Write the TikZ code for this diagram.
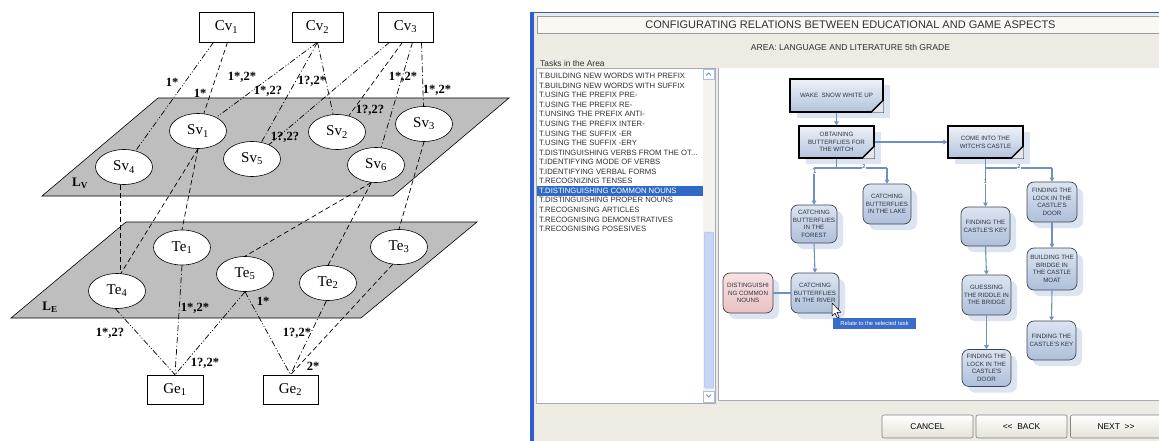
\documentclass[tikz,border=0pt]{standalone}
\usepackage{fontspec}
\setmainfont{Liberation Serif}
\newfontfamily\uisans{Liberation Sans}
\usetikzlibrary{shapes.geometric,arrows.meta,shadows,calc}
\definecolor{planegray}{HTML}{BEBEBE}
\definecolor{winbg}{HTML}{EEEBE3}
\definecolor{xpblue}{HTML}{2E5FD0}
\definecolor{titlebg}{HTML}{F9F8F5}
\definecolor{frameline}{HTML}{9A9A9A}
\definecolor{listborder}{HTML}{A5ACB5}
\definecolor{scrolltrack}{HTML}{F4F3EF}
\definecolor{thumbblue}{HTML}{C6D6F7}
\definecolor{thumbborder}{HTML}{A9BEEA}
\definecolor{selblue}{HTML}{316AC5}
\definecolor{listtext}{HTML}{303030}
\definecolor{flowblue}{HTML}{6F90C4}
\definecolor{tbtop}{HTML}{EEF2F8}
\definecolor{tbbot}{HTML}{B3C3DD}
\definecolor{rbtop}{HTML}{DCE4F1}
\definecolor{rbbot}{HTML}{AEBFDA}
\definecolor{rbborder}{HTML}{404650}
\definecolor{shadowblue}{HTML}{DCE4F1}
\definecolor{pinktop}{HTML}{F8E2E2}
\definecolor{pinkbot}{HTML}{E9C1C1}
\definecolor{tipblue}{HTML}{3A6CC9}
\definecolor{btnborder}{HTML}{808080}
\definecolor{btnbot}{HTML}{E4E2DA}
\definecolor{flowtext}{HTML}{2E3440}
\definecolor{foldfill}{HTML}{E2E7EF}
\newcommand\foldmark[1]{%
  \fill[foldfill] (#1.south east) -- ++(-13,0) -- ++(13,-13) -- cycle;
  \draw[line width=1.4pt] ([xshift=-13pt]#1.south east) -- ([yshift=13pt]#1.south east);}
\tikzset{
  cvbox/.style={draw, line width=0.6pt, fill=white, minimum width=55pt, minimum height=30pt, inner sep=0pt, font=\fontsize{15}{17}\selectfont},
  ell/.style={ellipse, draw, line width=0.6pt, fill=white, minimum width=57pt, minimum height=35pt, inner sep=0pt, font=\fontsize{15}{17}\selectfont},
  plane/.style={draw, line width=0.6pt, fill=planegray},
  lab/.style={font=\bfseries\fontsize{12.5}{13}\selectfont, inner sep=0pt},
  ldash/.style={line width=0.7pt, dash pattern=on 5pt off 3pt},
  ldot/.style={line width=0.7pt, dash pattern=on 6pt off 2.5pt on 1pt off 2.5pt},
  lddot/.style={line width=0.7pt, dash pattern=on 6pt off 2pt on 1pt off 2pt on 1pt off 2pt},
  uitext/.style={inner sep=0pt, text=listtext},
  listitem/.style={anchor=west, inner sep=0pt, font=\uisans\fontsize{7.7}{8}\selectfont},
  taskbox/.style={rectangle, draw=black, line width=1.4pt, top color=tbtop, bottom color=tbbot, inner sep=0pt, align=center, text=flowtext, font=\uisans\fontsize{6.2}{7.8}\selectfont, drop shadow={shadow xshift=7pt, shadow yshift=-6pt, fill=shadowblue, opacity=1}},
  roundbox/.style={rectangle, rounded corners=7pt, draw=rbborder, line width=0.7pt, top color=rbtop, bottom color=rbbot, inner sep=0pt, align=center, text=flowtext, font=\uisans\fontsize{6.2}{7.6}\selectfont, drop shadow={shadow xshift=6pt, shadow yshift=-6pt, fill=shadowblue, opacity=1}},
  pinkbox/.style={roundbox, top color=pinktop, bottom color=pinkbot},
  flow/.style={draw=flowblue, line width=1.1pt},
  flowarr/.style={flow, -{Triangle[width=4.5pt,length=4pt]}},
  branchlab/.style={inner sep=0.3pt, fill=white, font=\uisans\fontsize{5.5}{6}\selectfont, text=flowtext},
  btn/.style={draw=btnborder, line width=0.6pt, rounded corners=2pt, top color=white, bottom color=btnbot, minimum width=91pt, minimum height=23pt, inner sep=0pt, font=\uisans\fontsize{8.4}{9}\selectfont},
}
\begin{document}
\begin{tikzpicture}[x=1pt,y=-1pt]
\useasboundingbox (0,0) rectangle (1159,441);
\fill[white] (0,0) rectangle (1159,441);

% ---------------- left: layered model ----------------
\draw[plane] (126,222) -- (477,222) -- (361,318) -- (11,318) -- cycle;
\draw[plane] (158,98) -- (509,98) -- (393,196) -- (42,196) -- cycle;
\node[inner sep=0pt, font=\bfseries\fontsize{13}{14}\selectfont] (LV) at (80,183) {L\textsubscript{V}};
\node[inner sep=0pt, font=\bfseries\fontsize{13}{14}\selectfont] (LE) at (50,307) {L\textsubscript{E}};

\node[cvbox] (Cv1) at (226.5,27) {Cv\textsubscript{1}};
\node[cvbox, minimum width=51pt] (Cv2) at (317.5,27) {Cv\textsubscript{2}};
\node[cvbox] (Cv3) at (405.5,27) {Cv\textsubscript{3}};

\node[ell] (Sv1) at (198,131) {Sv\textsubscript{1}};
\node[ell] (Sv2) at (337,132) {Sv\textsubscript{2}};
\node[ell] (Sv3) at (424,124) {Sv\textsubscript{3}};
\node[ell] (Sv4) at (124,167) {Sv\textsubscript{4}};
\node[ell] (Sv5) at (252,159) {Sv\textsubscript{5}};
\node[ell] (Sv6) at (376,165) {Sv\textsubscript{6}};

\node[ell] (Te1) at (182,247.5) {Te\textsubscript{1}};
\node[ell] (Te2) at (328,283) {Te\textsubscript{2}};
\node[ell] (Te3) at (399,247) {Te\textsubscript{3}};
\node[ell] (Te4) at (117,291) {Te\textsubscript{4}};
\node[ell] (Te5) at (245,274) {Te\textsubscript{5}};

\node[cvbox, minimum width=56pt, minimum height=29pt] (Ge1) at (175,389.5) {Ge\textsubscript{1}};
\node[cvbox, minimum height=29pt] (Ge2) at (290.5,389.5) {Ge\textsubscript{2}};

\draw[lddot] ([xshift=-13pt]Cv1.south) -- (Sv4);
\draw[ldash] ([xshift=1pt]Cv1.south) -- (Sv1);
\draw[lddot] (Cv2.south) -- (Sv1);
\draw[ldot] (Cv2.south) -- (Sv5);
\draw[ldot] (Cv2.south) -- (Sv2);
\draw[lddot] ([xshift=-16pt]Cv3.south) -- (Sv5);
\draw[ldash] ([xshift=-3pt]Cv3.south) -- (Sv2);
\draw[ldot] ([xshift=7pt]Cv3.south) -- (Sv6);
\draw[ldot] ([xshift=16pt]Cv3.south) -- (Sv3);

\draw[ldash] ([xshift=-4pt]Sv4.south) -- ([xshift=3pt]Te4.north);
\draw[ldash] (Sv1.south) -- ([xshift=4pt]Te4.north);
\draw[ldash] (Sv1.south) -- (Te1.north);
\draw[ldash] (Sv6.255) -- (Te5.north);
\draw[ldash] (Sv6.255) -- (Te2.north);
\draw[ldash] (Sv3.south) -- (Te3.north);

\draw[lddot] (Te4.265) -- (Ge1.north);
\draw[ldot] (Te1.south) -- (Ge1.north);
\draw[lddot] (Te5.south) -- (Ge1.north);
\draw[lddot] (Te5.south) -- (Ge2.north);
\draw[ldot] (Te2.265) -- (Ge2.north);
\draw[ldash] (Te3.250) -- (Ge2.north);

\node[lab] (m1) at (172,82) {1*};
\node[lab] (m2) at (200,93) {1*};
\node[lab] (m3) at (242,77) {1*,2*};
\node[lab] (m4) at (268,91) {1*,2?};
\node[lab] (m5) at (312,81) {1?,2*};
\node[lab] (m6) at (403,77) {1*,2*};
\node[lab] (m7) at (437,90) {1*,2*};
\node[lab] (m8) at (370,110) {1?,2?};
\node[lab] (m9) at (285,137) {1?,2?};
\node[lab] (m10) at (110,333) {1*,2?};
\node[lab] (m11) at (195,308) {1*,2*};
\node[lab] (m12) at (263,301) {1*};
\node[lab] (m13) at (297,333) {1?,2*};
\node[lab] (m14) at (205,363) {1?,2*};
\node[lab] (m15) at (313,366) {2*};

% ---------------- right: screenshot ----------------
\fill[winbg] (533,12) rectangle (1159,441);
\fill[xpblue] (530,12) rectangle (534,441);
\draw[xpblue, line width=1.2pt] (530,12.6) -- (1159,12.6);
\draw[frameline, fill=titlebg, line width=0.6pt] (537,16) rectangle (1162,33);
\node[uitext, font=\uisans\fontsize{11}{12}\selectfont] (title) at (850.5,25) {CONFIGURATING RELATIONS BETWEEN EDUCATIONAL AND GAME ASPECTS};
\node[uitext, font=\uisans\fontsize{8.6}{9}\selectfont] (area) at (850.5,47) {AREA: LANGUAGE AND LITERATURE 5th GRADE};
\node[uitext, anchor=west, font=\uisans\fontsize{8.4}{9}\selectfont] (tasks) at (540,63) {Tasks in the Area};

% list box
\draw[listborder, fill=white, line width=0.6pt] (536,68) rectangle (715,403);
\fill[scrolltrack] (703,69) rectangle (714.5,402.5);
\draw[thumbborder, fill=white, line width=0.5pt] (703.5,69.5) rectangle (714,79);
\draw[flowblue, line width=0.8pt] (706.3,75.5) -- (708.7,73) -- (711.1,75.5);
\draw[thumbborder, fill=thumbblue, rounded corners=1pt, line width=0.5pt] (704.5,232) rectangle (713.5,388);
\draw[thumbborder, fill=white, line width=0.5pt] (703.5,391) rectangle (714,402);
\draw[flowblue, line width=0.8pt] (706.3,394.5) -- (708.7,397) -- (711.1,394.5);
\fill[selblue] (537,185.5) rectangle (702.5,196);
\foreach \t [count=\i] in {T.BUILDING NEW WORDS WITH PREFIX,T.BUILDING NEW WORDS WITH SUFFIX,T.USING THE PREFIX PRE-,T.USING THE PREFIX RE-,T.UNSING THE PREFIX ANTI-,T.USING THE PREFIX INTER-,T.USING THE SUFFIX -ER,T.USING THE SUFFIX -ERY,T.DISTINGUISHING VERBS FROM THE OT{.}{.}{.},T.IDENTIFYING MODE OF VERBS,T.IDENTIFYING VERBAL FORMS,T.RECOGNIZING TENSES,T.DISTINGUISHING COMMON NOUNS,T.DISTINGUISHING PROPER NOUNS,T.RECOGNISING ARTICLES,T.RECOGNISING DEMONSTRATIVES,T.RECOGNISING POSESIVES}{%
  \ifnum\i=13 \def\tc{white}\else\def\tc{listtext}\fi
  \node[listitem, text=\tc] (li\i) at (539,{76+9.56*(\i-1)}) {\t};
}

% canvas
\fill[white] (718,68) rectangle (1159,400);
\draw[listborder, line width=0.5pt] (718,68) -- (718,400) -- (1159,400);

% flowchart nodes
\node[taskbox, minimum width=93pt, minimum height=33pt] (wake) at (836.5,95.5) {WAKE\ \ SNOW WHITE UP};
\node[taskbox, minimum width=75pt, minimum height=32pt] (obtain) at (836.5,142) {OBTAINING\\BUTTERFLIES FOR\\THE WITCH};
\node[taskbox, minimum width=75pt, minimum height=32pt] (come) at (985.5,142) {COME INTO THE\\WITCH'S CASTLE};
\foldmark{wake}
\foldmark{obtain}
\foldmark{come}

\node[roundbox, minimum width=48pt, minimum height=40pt] (lake) at (887,204) {CATCHING\\BUTTERFLIES\\IN THE LAKE};
\node[roundbox, minimum width=46pt, minimum height=38pt] (forest) at (814,224) {CATCHING\\BUTTERFLIES\\IN THE\\FOREST};
\node[roundbox, minimum width=48pt, minimum height=40pt] (river) at (815,293) {CATCHING\\BUTTERFLIES\\IN THE RIVER};
\node[pinkbox, minimum width=50pt, minimum height=40pt] (pink) at (748,293) {DISTINGUISHI\\NG COMMON\\NOUNS};
\node[roundbox, minimum width=49pt, minimum height=39pt] (key1) at (985.5,226.5) {FINDING THE\\CASTLE'S KEY};
\node[roundbox, minimum width=50pt, minimum height=40pt] (lock2) at (1052,202) {FINDING THE\\LOCK IN THE\\CASTLE'S\\DOOR};
\node[roundbox, minimum width=49pt, minimum height=40pt] (guess) at (986.5,295) {GUESSING\\THE RIDDLE IN\\THE BRIDGE};
\node[roundbox, minimum width=49pt, minimum height=37pt] (lock1) at (986.5,368) {FINDING THE\\LOCK IN THE\\CASTLE'S\\DOOR};
\node[roundbox, minimum width=50pt, minimum height=42pt] (build) at (1052,269) {BUILDING THE\\BRIDGE IN\\THE CASTLE\\MOAT};
\node[roundbox, minimum width=49pt, minimum height=39pt] (key2) at (1051.5,340.5) {FINDING THE\\CASTLE'S KEY};

% flowchart connectors
\draw[flowarr] (wake.south) -- (obtain.north);
\draw[flowarr] (obtain.east) -- (come.west);
\coordinate (b1) at (836.5,168);
\draw[flow] (obtain.south) -- (b1);
\draw[flow] (forest.north |- b1) -- (lake.north |- b1);
\draw[flowarr] (forest.north |- b1) -- (forest.north);
\draw[flowarr] (lake.north |- b1) -- (lake.north);
\coordinate (b2) at (985.5,168);
\draw[flow] (come.south) -- (b2);
\draw[flow] (key1.north |- b2) -- (lock2.north |- b2);
\draw[flowarr] (key1.north |- b2) -- (key1.north);
\draw[flowarr] (lock2.north |- b2) -- (lock2.north);
\draw[flowarr] (forest.south) -- (river.north);
\draw[flow] (pink.east) -- (river.west);
\draw[flowarr] (key1.south) -- (guess.north);
\draw[flowarr] (guess.south) -- (lock1.north);
\draw[flowarr] (lock2.south) -- (build.north);
\draw[flowarr] (build.south) -- (key2.north);
\node[branchlab] (n1a) at (815,171.5) {1};
\node[branchlab] (n2a) at (864,167) {2};
\node[branchlab] (n2b) at (1019,167) {2};
\node[branchlab] (n1b) at (985.5,182) {1};

% tooltip and cursor
\node[fill=tipblue, text=white, minimum width=83pt, minimum height=11pt, inner sep=0pt, font=\uisans\fontsize{5.8}{6}\selectfont] (tip) at (874.5,323.5) {Relate to the selected task};
\draw[fill=white, line width=0.5pt, line join=round] (832,303) -- (832,316) -- (835,313.2) -- (837.3,318) -- (839.2,317.2) -- (837,312.4) -- (841,312.4) -- cycle;

% buttons
\node[btn] (cancel) at (927.5,426.5) {CANCEL};
\node[btn] (back) at (1021.5,426.5) {<<\ \ BACK};
\node[btn] (next) at (1116,426.5) {NEXT\ \ >>};
\end{tikzpicture}
\end{document}
